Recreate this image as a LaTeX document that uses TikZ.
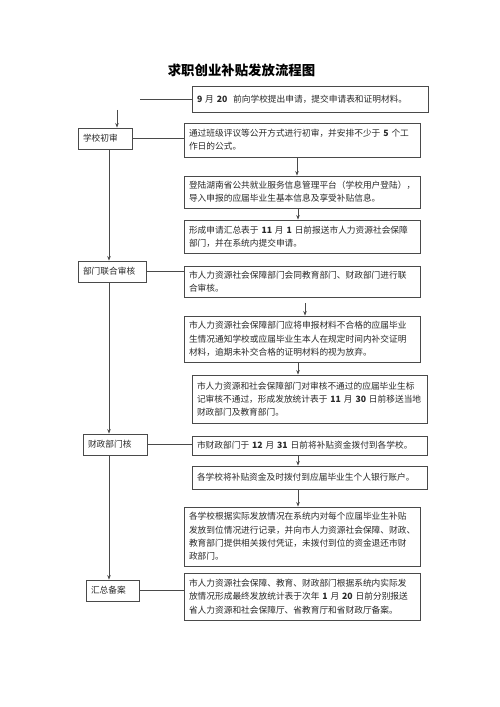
\documentclass[tikz,border=0pt]{standalone}
\usepackage{fontspec}
\setmainfont{Noto Sans CJK SC}
\usetikzlibrary{arrows.meta}
\definecolor{ln}{HTML}{4A4A4A}
\definecolor{tx}{HTML}{2A2A2A}
\tikzset{
  box/.style={draw=ln, line width=0.9bp, inner xsep=5bp, inner ysep=1bp, align=left,
    text=tx, font=\fontsize{8.7bp}{13.3bp}\selectfont},
  conn/.style={draw=ln, line width=0.8bp},
  arr/.style={conn, -{Stealth[length=4.5bp,width=3.5bp]}},
}
\newcommand\bx[6]{%
  \pgfmathsetmacro\bw{#4-#2}\pgfmathsetmacro\bh{#5-#3}\pgfmathsetmacro\tw{#4-#2-10}%
  \node[box, minimum width=\bw bp, minimum height=\bh bp, text width=\tw bp] (#1) at ({(#2+#4)/2},{(#3+#5)/2}) {#6};}
\newcommand\nm[1]{\textbf{#1}}
\begin{document}
\begin{tikzpicture}[x=1bp,y=-1bp]
\useasboundingbox[fill=white] (0,0) rectangle (500,707);
\node[font=\fontsize{13.4bp}{16bp}\selectfont\bfseries, text=black] (title) at (241.5,70) {求职创业补贴发放流程图};
\bx{b1}{192}{86}{428}{112}{\nm{9}~月~\nm{20}~~前向学校提出申请，提交申请表和证明材料。}
\bx{b2}{184}{123}{420}{157}{通过班级评议等公开方式进行初审，并安排不少于~\nm{5}~个工\\作日的公式。}
\bx{b3}{184}{176}{420}{208}{登陆湖南省公共就业服务信息管理平台（学校用户登陆），\\导入申报的应届毕业生基本信息及享受补贴信息。}
\bx{b4}{184}{220}{420}{253}{形成申请汇总表于~\nm{11}~月~\nm{1}~日前报送市人力资源社会保障\\部门，并在系统内提交申请。}
\bx{b5}{184}{266}{420}{297}{市人力资源社会保障部门会同教育部门、财政部门进行联\\合审核。}
\bx{b6}{184}{316}{420}{362}{市人力资源社会保障部门应将申报材料不合格的应届毕业\\生情况通知学校或应届毕业生本人在规定时间内补交证明\\材料，逾期未补交合格的证明材料的视为放弃。}
\bx{b7}{192}{375}{427}{423}{市人力资源和社会保障部门对审核不通过的应届毕业生标\\记审核不通过，形成发放统计表于~\nm{11}~月~\nm{30}~日前移送当地\\财政部门及教育部门。}
\bx{b8}{192}{436}{427}{455}{市财政部门于~\nm{12}~月~\nm{31}~日前将补贴资金拨付到各学校。}
\bx{b9}{192}{466}{427}{489}{各学校将补贴资金及时拨付到应届毕业生个人银行账户。}
\bx{b10}{184}{507}{420}{566}{各学校根据实际发放情况在系统内对每个应届毕业生补贴\\发放到位情况进行记录，并向市人力资源社会保障、财政、\\教育部门提供相关拨付凭证，未拨付到位的资金退还市财\\政部门。}
\bx{b11}{184}{573}{420}{620}{市人力资源社会保障、教育、财政部门根据系统内实际发\\放情况形成最终发放统计表于次年~\nm{1}~月~\nm{20}~日前分别报送\\省人力资源和社会保障厅、省教育厅和省财政厅备案。}
\bx{s1}{78}{128}{132}{149}{学校初审}
\bx{s2}{78}{261}{146}{282}{部门联合审核}
\bx{s3}{83}{434}{147}{455}{财政部门核}
\bx{s4}{86}{580}{139}{601}{汇总备案}
% connectors
\coordinate (top) at (140,99);
\draw[conn] (top) -- (top -| b1.west);
\coordinate (a0) at (117,110);
\draw[arr] (a0) -- (a0 |- s1.north);
\draw[conn] (s1.east) -- (s1.east -| b2.west);
\draw[arr] (297,0 |- b2.south) -- (297,0 |- b3.north);
\draw[arr] (298,0 |- b3.south) -- (298,0 |- b4.north);
\coordinate (lx) at (109,0);
\draw[arr] (lx |- s1.south) -- (lx |- s2.north);
\draw[conn] (s2.east) -- (s2.east -| b5.west);
\coordinate (a1) at (305,303);
\draw[arr] (a1) -- (a1 |- b6.north);
\draw[arr] (298,0 |- b6.south) -- (298,0 |- b7.north);
\draw[arr] (lx |- s2.south) -- (lx |- s3.north);
\draw[conn] (s3.east) -- (s3.east -| b8.west);
\draw[arr] (298,0 |- b8.south) -- (298,0 |- b9.north);
\draw[arr] (298,0 |- b9.south) -- (298,0 |- b10.north);
\draw[arr] (lx |- s3.south) -- (lx |- s4.north);
\draw[conn] (s4.east) -- (s4.east -| b11.west);
\end{tikzpicture}
\end{document}
